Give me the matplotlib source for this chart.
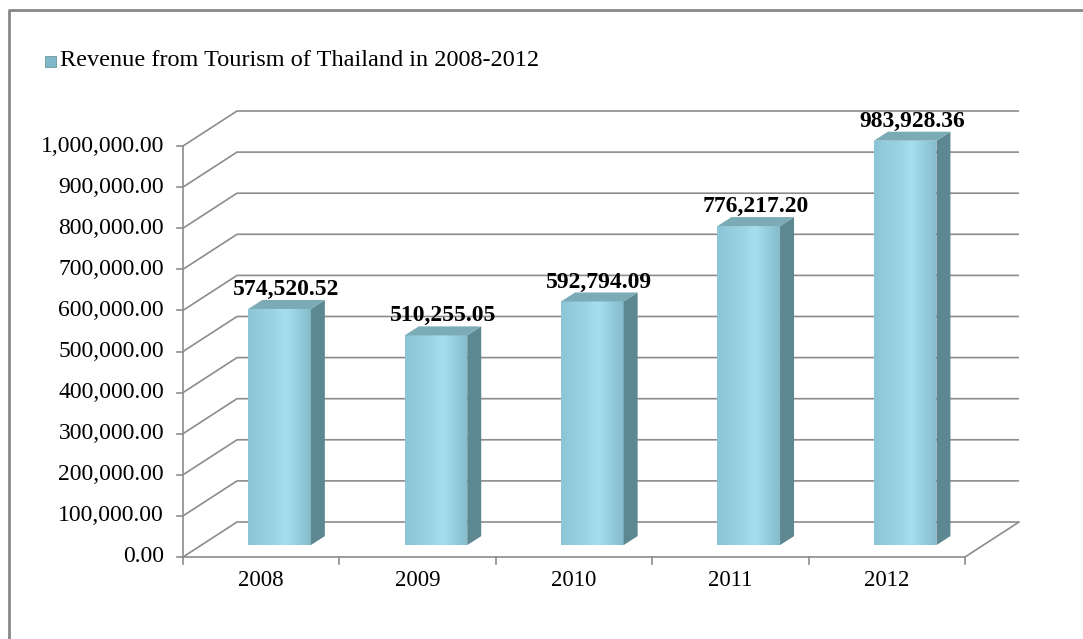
import numpy as np
import matplotlib
matplotlib.use("Agg")
import matplotlib.pyplot as plt
from matplotlib.patches import Polygon, Rectangle
from matplotlib.lines import Line2D
from matplotlib.colors import LinearSegmentedColormap

years = ["2008", "2009", "2010", "2011", "2012"]
revenue = [574520.52, 510255.05, 592794.09, 776217.20, 983928.36]
yticks = list(range(0, 1000001, 100000))
legend_label = "Revenue from Tourism of Thailand in 2008-2012"

plt.rcParams["font.family"] = ["Liberation Serif", "DejaVu Serif"]

W, H = 1083, 639
fig = plt.figure(figsize=(W / 100, H / 100), dpi=100)
# front plane of the pseudo-3D plot
x0, x1, y0, y1 = 183, 965, 557, 146
ax = fig.add_axes([x0 / W, (H - y0) / H, (x1 - x0) / W, (y0 - y1) / H])
n = len(years)
ax.axis("off")

px_x = (x1 - x0) / n          # pixels per category
px_y = (y0 - y1) / 1000000    # pixels per unit
DX = 54 / px_x                # back wall offset
DY = 35 / px_y
grid = "#8c8c8c"

# back wall gridlines + diagonals on the side wall
for v in yticks:
    ax.plot([0, DX, n + DX], [v, v + DY, v + DY], color=grid, lw=1.2,
            clip_on=False, solid_capstyle="butt")
# front y axis, floor edges
ax.plot([0, 0], [0, 1000000], color=grid, lw=1.2, clip_on=False)
ax.plot([0, n, n + DX], [0, 0, DY], color=grid, lw=1.2, clip_on=False)
for v in yticks:
    ax.plot([-6 / px_x, 0], [v, v], color=grid, lw=1.2, clip_on=False)
    ax.text(-19 / px_x, v, f"{v:,.2f}", ha="right", va="center", fontsize=17)
for i in range(n + 1):
    ax.plot([i, i], [0, -7 / px_y], color=grid, lw=1.2, clip_on=False)
for i, yr in enumerate(years):
    ax.text(i + 0.5, -24 / px_y, yr, ha="center", va="center", fontsize=16.5)

# bars
f = 0.34                      # depth of bar front face
bw = 0.40                     # bar width (category units)
bdx = 14 / px_x               # bar depth
bdy = 9 / px_y
side_c, top_c = "#5e8891", "#7aabb6"
shade = LinearSegmentedColormap.from_list(
    "front", ["#8cc5d5", "#94cddd", "#9bd3e2", "#a8dfee", "#96cede", "#86bccb"])
grad = np.linspace(0, 1, 64).reshape(1, -1)
for i, v in enumerate(revenue):
    xl = i + 0.5 - bw / 2 + f * DX
    xr = xl + bw
    yb = f * DY
    yt = yb + v
    face = Polygon([[xl, yb], [xr, yb], [xr, yt], [xl, yt]],
                   closed=True, fc="none", ec="none", transform=ax.transData)
    ax.add_patch(face)
    im = ax.imshow(grad, cmap=shade, extent=[xl, xr, yb, yt], aspect="auto", zorder=3)
    im.set_clip_box(fig.bbox)
    im.set_clip_path(face)
    ax.add_patch(Polygon([[xr, yb], [xr + bdx, yb + bdy], [xr + bdx, yt + bdy], [xr, yt]],
                         closed=True, fc=side_c, ec="none", clip_on=False, zorder=3))
    ax.add_patch(Polygon([[xl, yt], [xr, yt], [xr + bdx, yt + bdy], [xl + bdx, yt + bdy]],
                         closed=True, fc=top_c, ec="none", clip_on=False, zorder=3))
    ax.text((xl + xr + bdx) / 2, yt + bdy + 0 / px_y, f"{v:,.2f}",
            ha="center", va="bottom", fontsize=17, fontweight="bold", zorder=4)

ax.set_xlim(0, n)
ax.set_ylim(0, 1000000)

# legend
fig.patches.append(Rectangle((45 / W, (H - 67) / H), 11 / W, 11 / H,
                             transform=fig.transFigure, fc="#7fb9c9", ec="#5e8891", lw=0.5))
fig.text(60 / W, (H - 61) / H, legend_label, ha="left", va="center", fontsize=17.5)

# outer border (top and left visible)
fig.add_artist(Line2D([9 / W, 9 / W, 1.0], [0.0, (H - 10) / H, (H - 10) / H],
                      transform=fig.transFigure, color="#888888", lw=2))

fig.savefig("out.png", dpi=100)
